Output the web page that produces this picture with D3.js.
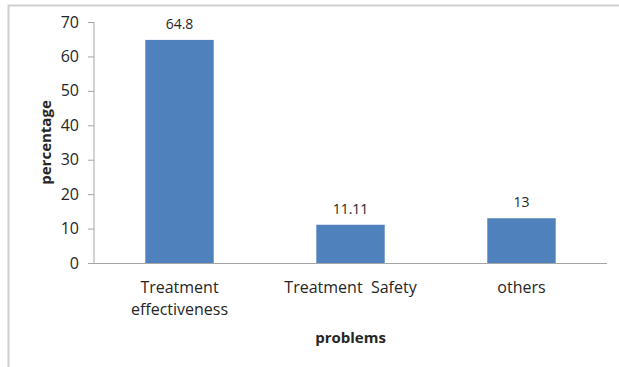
<!DOCTYPE html>
<html>
<head>
<meta charset="utf-8">
<script src="https://cdn.jsdelivr.net/npm/d3@7"></script>
<style>
  html, body { margin: 0; padding: 0; background: #fff; }
  svg { display: block; }
  text { font-family: "Open Sans", "Liberation Sans", sans-serif; fill: #262626; }
</style>
</head>
<body>
<svg id="chart" width="619" height="367"></svg>
<script>
// Share of reported problems by category
const categories = [["Treatment", "effectiveness"], ["Treatment  Safety"], ["others"]];
const values = [64.8, 11.11, 13];
const valueLabels = ["64.8", "11.11", "13"];
const yTicks = [0, 10, 20, 30, 40, 50, 60, 70];
const yTitle = "percentage";
const xTitle = "problems";

const svg = d3.select("#chart");
const margin = { left: 94, right: 12, top: 22, bottom: 104 };
const W = 619, H = 367;

// chart frame (top and left edges only)
svg.append("path")
  .attr("d", `M8.5,${H} V5.5 H${W}`)
  .attr("fill", "none")
  .attr("stroke", "#d0d0d0")
  .attr("stroke-width", 2);

const x = d3.scaleBand()
  .domain(d3.range(values.length))
  .range([margin.left, W - margin.right])
  .paddingInner(0.6)
  .paddingOuter(0.3);

const y = d3.scaleLinear()
  .domain([0, 70])
  .range([H - margin.bottom, margin.top]);

// y axis
const yAxis = svg.append("g")
  .attr("transform", `translate(${margin.left},0)`)
  .call(d3.axisLeft(y).tickValues(yTicks).tickSize(6).tickPadding(9));
yAxis.select(".domain").attr("stroke", "#a6a6a6").attr("d", `M0,${y(0)}V${y(70)}`);
yAxis.selectAll(".tick line").attr("stroke", "#a6a6a6");
yAxis.selectAll(".tick text").style("font-size", "16px").attr("fill", "#262626");

// baseline
svg.append("line")
  .attr("x1", margin.left).attr("x2", W - margin.right)
  .attr("y1", y(0) + 0.5).attr("y2", y(0) + 0.5)
  .attr("stroke", "#a6a6a6");

// bars
svg.append("g").selectAll("rect")
  .data(values)
  .join("rect")
  .attr("x", (d, i) => x(i))
  .attr("width", x.bandwidth())
  .attr("y", d => y(d))
  .attr("height", d => y(0) - y(d))
  .attr("fill", "#4f81bd");

// value labels
svg.append("g").selectAll("text")
  .data(values)
  .join("text")
  .attr("x", (d, i) => x(i) + x.bandwidth() / 2)
  .attr("y", d => y(d) - 11)
  .attr("text-anchor", "middle")
  .style("font-size", "14px")
  .text((d, i) => valueLabels[i]);

// category labels
const cat = svg.append("g").selectAll("text")
  .data(categories)
  .join("text")
  .attr("x", (d, i) => x(i) + x.bandwidth() / 2)
  .attr("y", y(0) + 30)
  .attr("text-anchor", "middle")
  .style("font-size", "16px")
  .style("white-space", "pre");
cat.selectAll("tspan")
  .data(d => d)
  .join("tspan")
  .attr("x", function () { return this.parentNode.getAttribute("x"); })
  .attr("dy", (d, j) => j === 0 ? 0 : 22)
  .text(d => d);

// axis titles
svg.append("text")
  .attr("x", (margin.left + W - margin.right) / 2)
  .attr("y", 343)
  .attr("text-anchor", "middle")
  .style("font-size", "15px")
  .style("font-weight", "bold")
  .text(xTitle);

svg.append("text")
  .attr("transform", `translate(51,${(y(0) + y(70)) / 2}) rotate(-90)`)
  .attr("text-anchor", "middle")
  .style("font-size", "15px")
  .style("font-weight", "bold")
  .text(yTitle);
</script>
</body>
</html>
